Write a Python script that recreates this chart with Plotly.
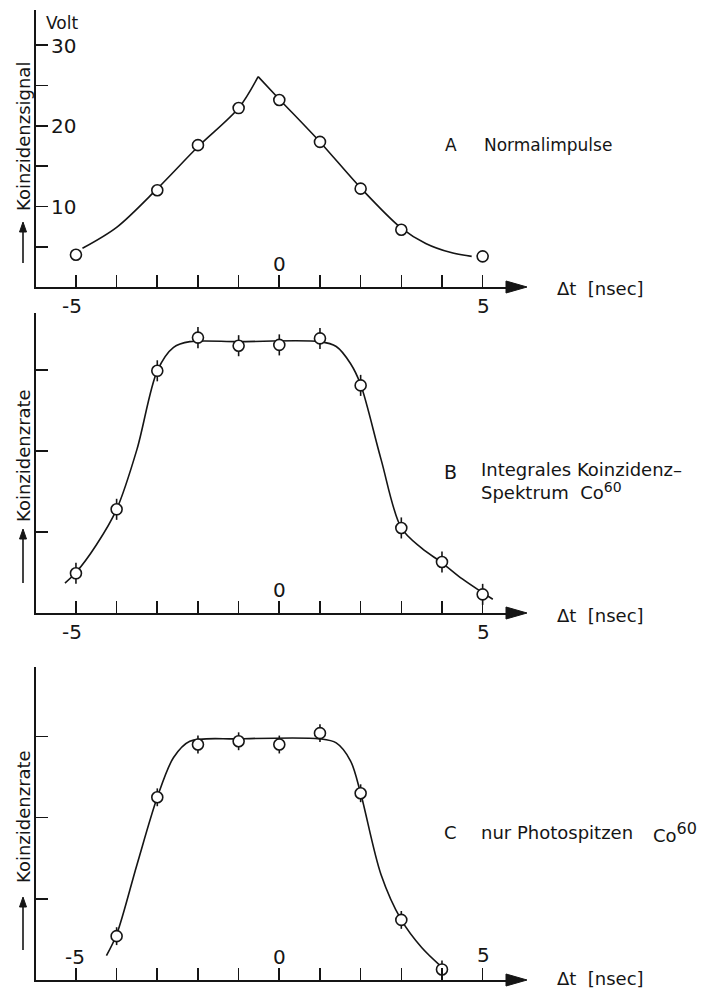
import plotly.graph_objects as go

W, H = 704, 991

# ---------------- data ----------------
# Panel A: Normalimpulse (Volt)
a_dt = [-5, -3, -2, -1, 0, 1, 2, 3, 5]
a_signal = [4.0, 12.0, 17.6, 22.2, 23.2, 18.0, 12.2, 7.1, 3.8]
a_curve_left_dt = [-4.84, -4.0, -3.0, -2.0, -1.0, -0.52]
a_curve_left_v = [4.8, 7.4, 12.2, 17.4, 22.2, 26.1]
a_curve_right_dt = [-0.52, 0.0, 1.0, 2.0, 3.0, 3.6, 4.2, 4.73]
a_curve_right_v = [26.1, 23.3, 18.0, 12.3, 7.3, 5.4, 4.3, 3.8]

# Panel B: Integrales Koinzidenzspektrum Co60
b_dt = [-5, -4, -3, -2, -1, 0, 1, 2, 3, 4, 5]
b_rate = [0.49, 1.28, 2.99, 3.40, 3.30, 3.31, 3.39, 2.81, 1.05, 0.63, 0.23]
b_err = [0.13] * 11
b_curve_dt = [-5.27, -5.0, -4.5, -4.0, -3.5, -3.0, -2.6, -2.2, -1.0, 1.0,
              1.4, 1.75, 2.0, 2.5, 3.0, 3.5, 4.0, 4.5, 5.0, 5.25]
b_curve_v = [0.37, 0.50, 0.84, 1.28, 2.02, 2.99, 3.28, 3.35, 3.35, 3.35,
             3.29, 3.08, 2.82, 1.90, 1.05, 0.80, 0.62, 0.42, 0.25, 0.17]

# Panel C: nur Photospitzen Co60
c_dt = [-4, -3, -2, -1, 0, 1, 2, 3, 4]
c_rate = [0.54, 2.25, 2.90, 2.94, 2.90, 3.04, 2.30, 0.74, 0.13]
c_err = [0.11] * 9
c_curve_dt = [-4.25, -4.0, -3.5, -3.0, -2.6, -2.2, -1.0, 1.0,
              1.4, 1.75, 2.0, 2.5, 3.0, 3.5, 3.95]
c_curve_v = [0.30, 0.56, 1.42, 2.25, 2.74, 2.94, 2.97, 2.97,
             2.92, 2.70, 2.30, 1.30, 0.74, 0.40, 0.18]

x_ticks = [-5, -4, -3, -2, -1, 0, 1, 2, 3, 4, 5]
a_yticks = [5, 10, 15, 20, 25, 30]
a_ylabels = [10, 20, 30]
bc_yticks = [1, 2, 3]

# ---------------- layout helpers (pixel -> paper) ----------------
def fx(px):
    return px / W

def fy(py):
    return 1 - py / H

X0_PX = 279.3      # pixel of dt = 0
X_UNIT = 40.67     # pixels per nsec
AX_LEFT = 36
AX_RIGHT = 512
x_range = [(AX_LEFT - X0_PX) / X_UNIT, (AX_RIGHT - X0_PX) / X_UNIT]

INK = "#151515"
FONT = "DejaVu Sans"

panels = [
    dict(bottom=287, top=10, ymax=(287 - 10) / 8.06),
    dict(bottom=613, top=313, ymax=(613 - 313) / 81.0),
    dict(bottom=980, top=667, ymax=(980 - 667) / 81.2),
]

fig = go.Figure()

marker = dict(symbol="circle", size=11, color="white",
              line=dict(color=INK, width=1.6))
line = dict(color=INK, width=1.6, shape="spline", smoothing=0.9)

# Panel A
fig.add_trace(go.Scatter(x=a_curve_left_dt, y=a_curve_left_v, mode="lines",
                         line=line, xaxis="x", yaxis="y", hoverinfo="skip"))
fig.add_trace(go.Scatter(x=a_curve_right_dt, y=a_curve_right_v, mode="lines",
                         line=line, xaxis="x", yaxis="y", hoverinfo="skip"))
fig.add_trace(go.Scatter(x=a_dt, y=a_signal, mode="markers", marker=marker,
                         xaxis="x", yaxis="y"))
# Panel B
fig.add_trace(go.Scatter(x=b_curve_dt, y=b_curve_v, mode="lines", line=line,
                         xaxis="x2", yaxis="y2", hoverinfo="skip"))
fig.add_trace(go.Scatter(x=b_dt, y=b_rate, mode="markers", marker=marker,
                         error_y=dict(type="data", array=b_err, width=0,
                                      thickness=1.6, color=INK),
                         xaxis="x2", yaxis="y2"))
# Panel C
fig.add_trace(go.Scatter(x=c_curve_dt, y=c_curve_v, mode="lines", line=line,
                         xaxis="x3", yaxis="y3", hoverinfo="skip"))
fig.add_trace(go.Scatter(x=c_dt, y=c_rate, mode="markers", marker=marker,
                         error_y=dict(type="data", array=c_err, width=0,
                                      thickness=1.6, color=INK),
                         xaxis="x3", yaxis="y3"))

axis_common = dict(showgrid=False, zeroline=False, showline=True,
                   linecolor=INK, linewidth=2, ticks="inside", ticklen=12,
                   tickwidth=1.6, tickcolor=INK, showticklabels=False,
                   fixedrange=True)

layout_axes = {}
for i, p in enumerate(panels):
    sfx = "" if i == 0 else str(i + 1)
    layout_axes["xaxis" + sfx] = dict(
        axis_common, domain=[fx(AX_LEFT), fx(AX_RIGHT)], range=x_range,
        tickmode="array", tickvals=x_ticks, anchor="y" + sfx)
    yt = a_yticks if i == 0 else bc_yticks
    layout_axes["yaxis" + sfx] = dict(
        axis_common, domain=[fy(p["bottom"]), fy(p["top"])],
        range=[0, p["ymax"]], tickmode="array", tickvals=yt,
        anchor="x" + sfx)

annotations = []
shapes = []

def text(px, py, s, size=17, xanchor="left", angle=0):
    annotations.append(dict(x=fx(px), y=fy(py), xref="paper", yref="paper",
                            text=s, showarrow=False, xanchor=xanchor,
                            yanchor="middle", textangle=angle, borderpad=0,
                            align="left",
                            font=dict(family=FONT, size=size, color=INK)))

def tri(path_pts):
    d = "M " + " L ".join(f"{fx(a)},{fy(b)}" for a, b in path_pts) + " Z"
    shapes.append(dict(type="path", xref="paper", yref="paper", path=d,
                       fillcolor=INK, line=dict(color=INK, width=1)))

def up_arrow(px, py_tip, py_tail):
    shapes.append(dict(type="line", xref="paper", yref="paper",
                       x0=fx(px), x1=fx(px), y0=fy(py_tail), y1=fy(py_tip + 6),
                       line=dict(color=INK, width=1.6)))
    tri([(px - 3.5, py_tip + 10), (px, py_tip), (px + 3.5, py_tip + 10)])

def x_arrowhead(py):
    shapes.append(dict(type="line", xref="paper", yref="paper",
                       x0=fx(AX_RIGHT - 2), x1=fx(510), y0=fy(py), y1=fy(py),
                       line=dict(color=INK, width=2)))
    tri([(506, py - 6), (527, py), (506, py + 6)])

NUM = 20
CO_B = 'Co<sup><span style="font-size:14px">60</span></sup>'
CO_C = 'Co<sup><span style="font-size:16px">60</span></sup>'

# Panel A texts
text(45, 23, "Volt")
for v, py in zip(a_ylabels, [207, 126, 46]):
    text(50, py, str(v), size=NUM)
text(72, 306, "-5", size=NUM, xanchor="center")
text(483, 306, "5", size=NUM, xanchor="center")
text(279, 264, "0", size=NUM, xanchor="center")
text(23, 137, "Koinzidenzsignal", size=18, angle=-90, xanchor="center")
up_arrow(23, 222, 263)
text(444, 145, "A", size=17)
text(483, 145, "Normalimpulse", size=17)
text(556, 288, "Δt  [nsec]", size=18)
x_arrowhead(287)

# Panel B texts
text(72, 632, "-5", size=NUM, xanchor="center")
text(483, 632, "5", size=NUM, xanchor="center")
text(279, 590, "0", size=NUM, xanchor="center")
text(23, 456, "Koinzidenzrate", size=18, angle=-90, xanchor="center")
up_arrow(23, 529, 583)
text(443, 472, "B", size=19)
text(480, 481, "Integrales Koinzidenz–<br>Spektrum  " + CO_B, size=18)
text(556, 615, "Δt  [nsec]", size=18)
x_arrowhead(613)

# Panel C texts
text(75, 957, "-5", size=NUM, xanchor="center")
text(279, 957, "0", size=NUM, xanchor="center")
text(483, 955, "5", size=NUM, xanchor="center")
text(23, 817, "Koinzidenzrate", size=18, angle=-90, xanchor="center")
up_arrow(23, 897, 950)
text(443, 832, "C", size=18)
text(480, 832, "nur Photospitzen", size=18)
text(652, 832, CO_C, size=18)
text(556, 978, "Δt  [nsec]", size=18)
x_arrowhead(980)

fig.update_layout(
    width=W, height=H, margin=dict(l=0, r=0, t=0, b=0),
    paper_bgcolor="white", plot_bgcolor="white", showlegend=False,
    font=dict(family=FONT, color=INK),
    annotations=annotations, shapes=shapes, **layout_axes)

fig.write_html("out.html",
               config={"displayModeBar": False, "staticPlot": True},
               post_script="document.body.style.margin='0';"
                           "document.body.style.padding='0';"
                           "document.body.style.overflow='hidden';")
